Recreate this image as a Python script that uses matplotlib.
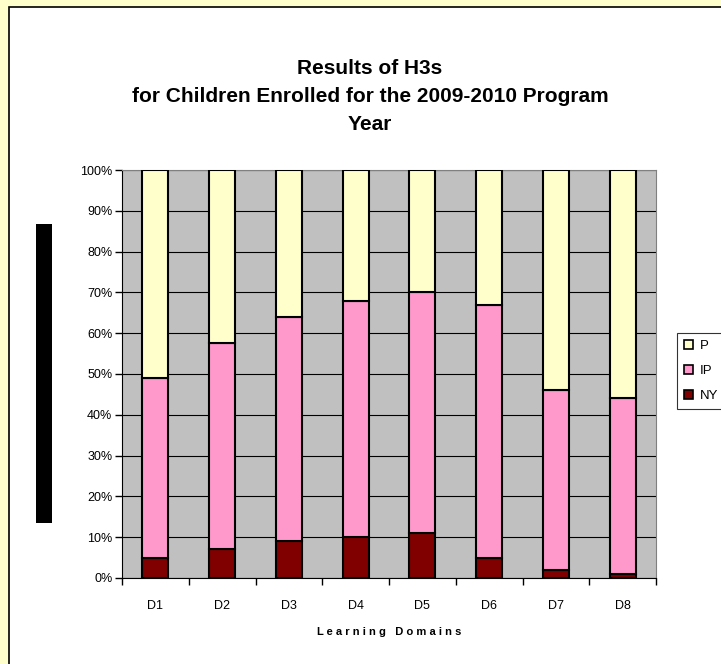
import numpy as np
import matplotlib
matplotlib.use("Agg")
import matplotlib.pyplot as plt
from matplotlib.patches import Rectangle

# --- data ---
domains = ["D1", "D2", "D3", "D4", "D5", "D6", "D7", "D8"]
ny = [5, 7, 9, 10, 11, 5, 2, 1]
ip = [44, 50.5, 55, 58, 59, 62, 44, 43]
p = [51, 42.5, 36, 32, 30, 33, 54, 56]
series_names = ["NY", "IP", "P"]
series_colors = ["#800000", "#FF99CC", "#FFFFCC"]

plt.rcParams['font.family'] = ['Liberation Sans', 'DejaVu Sans']

fig = plt.figure(figsize=(7.21, 6.64), dpi=100)
fig.patch.set_facecolor("#FFFFCC")

# white chart area with black border (runs off right/bottom edges)
fig.patches.append(Rectangle((9 / 721, -0.05), 1.1, (664 - 7) / 664 + 0.05,
                             transform=fig.transFigure, facecolor="white",
                             edgecolor="black", linewidth=1.2, zorder=0))
# black block left of the axis
fig.patches.append(Rectangle((36 / 721, (664 - 523) / 664), 16 / 721, 299 / 664,
                             transform=fig.transFigure, facecolor="black",
                             edgecolor="none", zorder=1))

ax = fig.add_axes([122 / 721, (664 - 578) / 664, 534 / 721, 408 / 664])
ax.set_zorder(3)
ax.set_facecolor("#C0C0C0")

x = np.arange(len(domains))
bottom = np.zeros(len(domains))
handles = {}
for name, vals, col in zip(series_names, [ny, ip, p], series_colors):
    vals = np.array(vals, dtype=float)
    b = ax.bar(x, vals, bottom=bottom, width=0.39, color=col,
               edgecolor="black", linewidth=1.5, zorder=3)
    handles[name] = b
    bottom += vals

ax.set_xlim(-0.5, len(domains) - 0.5)
ax.set_ylim(0, 100)
ax.set_yticks(np.arange(0, 101, 10))
ax.set_yticklabels([f"{v}%" for v in range(0, 101, 10)])
ax.yaxis.grid(True, color="black", linewidth=0.8, zorder=1)
ax.set_axisbelow(True)

ax.set_xticks(x)
ax.set_xticklabels(domains)
ax.set_xticks(np.arange(-0.5, len(domains)), minor=True)
ax.tick_params(axis="x", which="major", length=0, pad=15.5, labelsize=9)
ax.tick_params(axis="x", which="minor", length=5, direction="out", width=1)
ax.tick_params(axis="y", length=5, direction="out", width=1, labelsize=9, pad=2)

for side in ["top", "right"]:
    ax.spines[side].set_color("#808080")
ax.spines["left"].set_color("black")
ax.spines["bottom"].set_color("black")

ax.set_xlabel("L e a r n i n g   D o m a i n s", fontsize=8, fontweight="bold",
              labelpad=11)

fig.text(370 / 721, 1 - 68 / 664, "Results of H3s", ha="center", va="center",
         fontsize=15, fontweight="bold")
fig.text(370 / 721, 1 - 97 / 664, "for Children Enrolled for the 2009-2010 Program",
         ha="center", va="center", fontsize=15, fontweight="bold")
fig.text(370 / 721, 1 - 124 / 664, "Year", ha="center", va="center",
         fontsize=15, fontweight="bold")

leg = fig.legend([handles["P"], handles["IP"], handles["NY"]], ["P", "IP", "NY"],
                 loc="upper left", bbox_to_anchor=(677 / 721, 1 - 333 / 664),
                 fontsize=9.5, frameon=True, fancybox=False, handlelength=0.7,
                 handleheight=0.7, handletextpad=0.5, borderpad=0.55,
                 labelspacing=0.95, borderaxespad=0)
leg.set_zorder(4)
leg.get_frame().set_edgecolor("black")
leg.get_frame().set_linewidth(0.8)
for h in leg.legend_handles:
    h.set_linewidth(1.2)

fig.savefig("out.png", dpi=100)
